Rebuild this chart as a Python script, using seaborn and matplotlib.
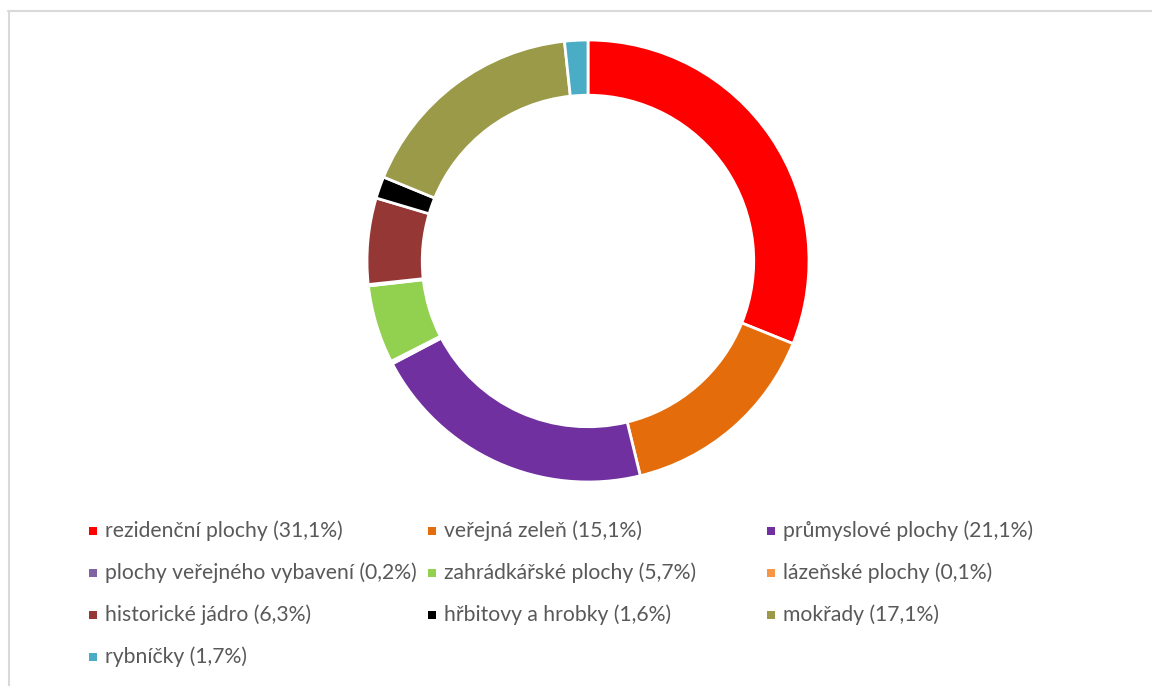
import matplotlib.pyplot as plt
import matplotlib.patches as mpatches
import seaborn as sns

# share of each land-use category, clockwise from 12 o'clock
categories = [
    "rezidenční plochy",
    "veřejná zeleň",
    "průmyslové plochy",
    "plochy veřejného vybavení",
    "zahrádkářské plochy",
    "lázeňské plochy",
    "historické jádro",
    "hřbitovy a hrobky",
    "mokřady",
    "rybníčky",
]
shares = [31.1, 15.1, 21.1, 0.2, 5.7, 0.1, 6.3, 1.6, 17.1, 1.7]
colors = [
    "#FF0000", "#E46C0A", "#7030A0", "#8064A2", "#92D050",
    "#F79646", "#953735", "#000000", "#9A9A48", "#4BACC6",
]

sns.set_theme(style="white")
plt.rcParams["font.family"] = ["Lato", "DejaVu Sans"]

fig = plt.figure(figsize=(11.52, 6.86), dpi=100)

# chart frame (only top and left edges visible in the crop)
fig.add_artist(plt.Line2D([8 / 1152, 1], [1 - 11 / 686] * 2, color="#d9d9d9", lw=1.5))
fig.add_artist(plt.Line2D([9 / 1152] * 2, [0, 1 - 11 / 686], color="#d9d9d9", lw=1.5))

ax = fig.add_axes([367 / 1152, 204 / 686, 442 / 1152, 442 / 686])
ax.pie(
    shares,
    colors=colors,
    startangle=90,
    counterclock=False,
    radius=1,
    wedgeprops=dict(width=0.25, edgecolor="white", linewidth=2),
)
ax.set_xlim(-1, 1)
ax.set_ylim(-1, 1)
ax.set_aspect("equal")
ax.axis("off")

# legend laid out in three columns, row by row
col_x = [89, 428, 767]
row_y = [531, 573, 615, 657]
for i, (name, val, c) in enumerate(zip(categories, shares, colors)):
    x = col_x[i % 3]
    y = row_y[i // 3]
    fig.add_artist(mpatches.Rectangle(
        (x / 1152, 1 - (y + 4) / 686), 8 / 1152, 8 / 686,
        transform=fig.transFigure, facecolor=c, edgecolor="none"))
    label = f"{name} ({val:.1f}%)".replace(".", ",")
    fig.text((x + 16) / 1152, 1 - y / 686, label, fontsize=15.2,
             color="#595959", va="center", ha="left")

fig.savefig("out.png", dpi=100)
